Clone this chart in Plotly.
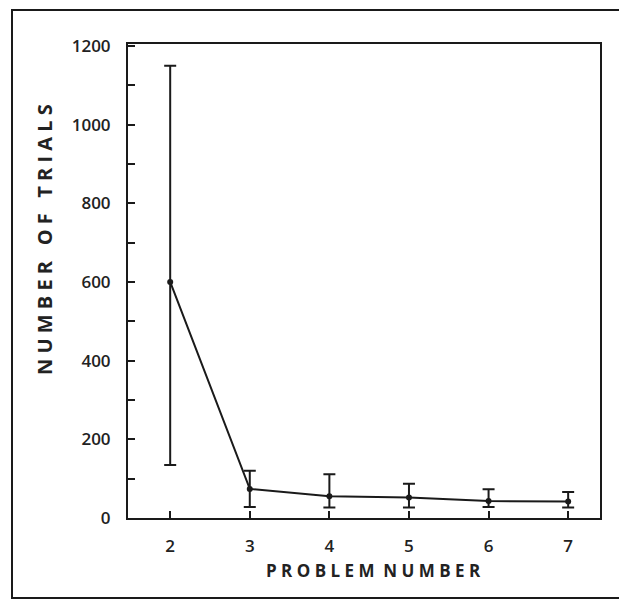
import plotly.graph_objects as go

problems = [2, 3, 4, 5, 6, 7]
mean_trials = [600, 74, 55, 52, 43, 42]
upper_err = [550, 46, 56, 35, 30, 24]
lower_err = [465, 46, 28, 25, 15, 15]

ink = "#1a1a1a"
fig = go.Figure()
fig.add_trace(go.Scatter(
    x=problems, y=mean_trials, mode="lines+markers",
    line=dict(color=ink, width=2),
    marker=dict(size=6, color=ink),
    error_y=dict(type="data", symmetric=False, array=upper_err, arrayminus=lower_err,
                 color=ink, thickness=2, width=6),
    showlegend=False,
))

W, H = 619, 596
L, R, T, B = 120, 27, 36, 86
pw, ph = W - L - R, H - T - B

def px_x(x):
    return (x - L) / pw

def px_y(y):
    return (T + ph - y) / ph

font = dict(family="Open Sans, DejaVu Sans, sans-serif", color="#222", size=17, weight=600)
fig.update_layout(
    width=W, height=H,
    margin=dict(l=L, r=R, t=T, b=B),
    paper_bgcolor="white", plot_bgcolor="white",
    font=font,
    xaxis=dict(range=[1.47, 7.4], tickvals=problems, ticks="inside", ticklen=7,
               tickwidth=2, tickcolor=ink, showgrid=False, zeroline=False,
               showline=True, linewidth=2, linecolor=ink, mirror=True,
               ticklabelstandoff=12),
    yaxis=dict(range=[0, 1205], tickvals=list(range(0, 1201, 100)),
               ticktext=[str(v) if v % 200 == 0 else "" for v in range(0, 1201, 100)],
               ticks="inside", ticklen=7, tickwidth=2, tickcolor=ink,
               showgrid=False, zeroline=False, showline=True, linewidth=2,
               linecolor=ink, mirror=True, ticklabelstandoff=12),
    annotations=[
        dict(text="P R O B L E M  N U M B E R", xref="paper", yref="paper",
             x=px_x(365), y=px_y(562), xanchor="center", yanchor="middle",
             showarrow=False, font=dict(size=17, color="#222", weight=700)),
        dict(text="N U M B E R   O F   T R I A L S", xref="paper", yref="paper",
             x=px_x(37), y=px_y(232), xanchor="center", yanchor="middle",
             textangle=-90, showarrow=False,
             font=dict(size=20, color="#222", weight=700)),
    ],
    shapes=[dict(type="rect", xref="paper", yref="paper",
                 x0=px_x(4), x1=px_x(614), y0=px_y(590), y1=px_y(2),
                 line=dict(color=ink, width=2))],
)
fig.write_html("out.html")
